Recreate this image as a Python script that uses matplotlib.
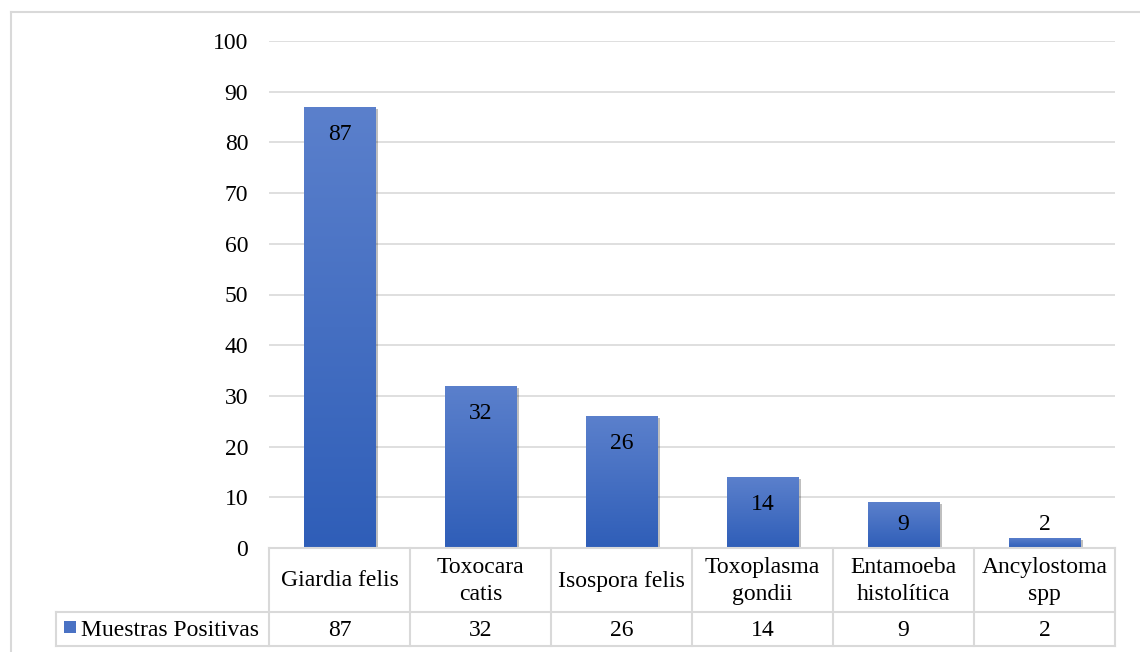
import matplotlib
matplotlib.use("Agg")
import matplotlib.pyplot as plt
import numpy as np
from matplotlib.colors import LinearSegmentedColormap
from matplotlib.patches import Rectangle
from matplotlib.lines import Line2D
import matplotlib.patheffects as pe

plt.rcParams['font.family'] = ['Liberation Serif', 'DejaVu Serif']

categories = ["Giardia felis", "Toxocara\ncatis", "Isospora felis",
              "Toxoplasma\ngondii", "Entamoeba\nhistolítica", "Ancylostoma\nspp"]
values = [87, 32, 26, 14, 9, 2]
series_name = "Muestras Positivas"
yticks = list(range(0, 101, 10))

W, H = 1140, 652
fig = plt.figure(figsize=(W / 100, H / 100), dpi=100)
fig.patch.set_facecolor("white")

grid_c = "#d9d9d9"
fs = 17
cmap = LinearSegmentedColormap.from_list("bar", ["#2f5eb8", "#5b80cc"])


def px(x0, y0, x1, y1):
    """Pixel box (top-left origin) to figure fraction rect."""
    return [x0 / W, 1 - y1 / H, (x1 - x0) / W, (y1 - y0) / H]


# outer chart frame (left and top edges visible)
fig.add_artist(Line2D([11 / W, 11 / W], [0, 1 - 12 / H], transform=fig.transFigure,
                      color=grid_c, lw=1.5))
fig.add_artist(Line2D([11 / W, 1], [1 - 12 / H, 1 - 12 / H], transform=fig.transFigure,
                      color=grid_c, lw=1.5))

ax = fig.add_axes(px(269, 41, 1115, 548))
n = len(categories)
x = np.arange(n)
ax.set_xlim(-0.5, n - 0.5)
ax.set_ylim(0, 100)
ax.set_yticks(yticks)
ax.set_yticklabels([str(t) for t in yticks], fontsize=fs)
ax.tick_params(axis='y', length=0, pad=15)
ax.set_xticks([])
for s in ax.spines.values():
    s.set_visible(False)
ax.grid(axis='y', color=grid_c, lw=1.2)
ax.set_axisbelow(True)

bw = 0.51
grad = np.linspace(0, 1, 256).reshape(-1, 1)
for xi, v in zip(x, values):
    bar = Rectangle((xi - bw / 2, 0), bw, v, facecolor="#4a72c4", edgecolor="none",
                    zorder=2)
    bar.set_path_effects([pe.SimplePatchShadow(offset=(1.5, -1.5), alpha=0.25,
                                               shadow_rgbFace="#000000"),
                          pe.Normal()])
    ax.add_patch(bar)
    im = ax.imshow(grad, cmap=cmap, aspect='auto', origin='lower',
                   extent=(xi - bw / 2, xi + bw / 2, 0, v), zorder=3)
    im.set_clip_path(bar)
    ly = max(v - 5.4, 4.7)
    ax.text(xi, ly, str(v), ha='center', va='center', fontsize=fs, zorder=4)

# data table below the plot
tax = fig.add_axes(px(0, 540, W, H))
tax.set_xlim(0, W)
tax.set_ylim(H, 540)
tax.axis('off')
col_w = (1115 - 269) / n
bounds = [269 + i * col_w for i in range(n + 1)]
ytop, ymid, ybot = 548, 612, 646
lw = 1.5
tax.plot([269, 1115], [ytop, ytop], color=grid_c, lw=lw)
tax.plot([56, 1115], [ymid, ymid], color=grid_c, lw=lw)
tax.plot([56, 1115], [ybot, ybot], color=grid_c, lw=lw)
tax.plot([56, 56], [ymid, ybot], color=grid_c, lw=lw)
for b in bounds:
    tax.plot([b, b], [ytop, ybot], color=grid_c, lw=lw)
for i, (c, v) in enumerate(zip(categories, values)):
    cx = (bounds[i] + bounds[i + 1]) / 2
    tax.text(cx, (ytop + ymid) / 2 + 1, c, ha='center', va='center', fontsize=fs,
             linespacing=1.32)
    tax.text(cx, (ymid + ybot) / 2 + 1, str(v), ha='center', va='center', fontsize=fs)

# legend key in table
key = Rectangle((64, 621), 12, 12, facecolor="#4a72c4", edgecolor="none")
tax.add_patch(key)
kim = tax.imshow(grad[::-1], cmap=cmap, aspect='auto', extent=(64, 76, 633, 621))
kim.set_clip_path(key)
tax.set_xlim(0, W)
tax.set_ylim(H, 540)
tax.text(81, (ymid + ybot) / 2 + 1, series_name, ha='left', va='center', fontsize=fs)

fig.savefig("out.png", dpi=100, facecolor="white")
